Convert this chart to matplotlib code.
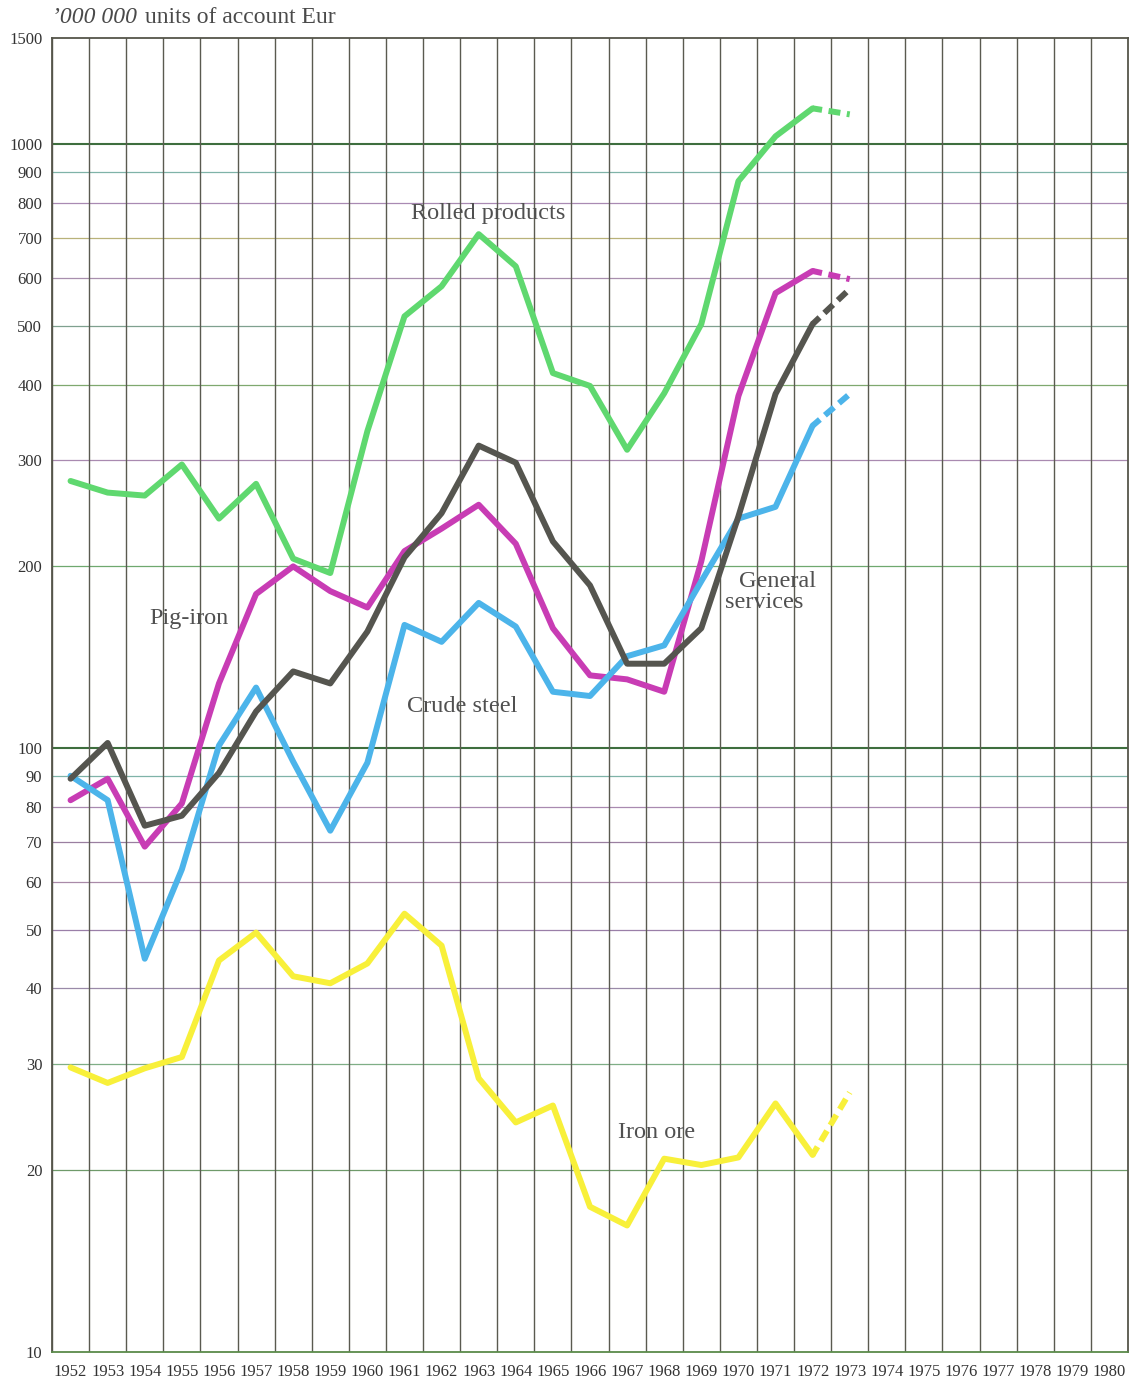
import matplotlib.pyplot as plt
from matplotlib.ticker import FixedLocator, NullLocator

years = list(range(1952, 1974))

rolled = [277, 265, 262, 295, 240, 274, 206, 195, 335, 519, 582, 710,
          628, 418, 398, 312, 387, 504, 869, 1031, 1147, 1121]
pig_iron = [82, 89, 68.7, 81, 128, 180, 200, 182, 171, 212, 231, 253,
            218, 158, 132, 130, 124, 204, 383, 567, 617, 598]
crude_steel = [90, 82, 44.8, 63, 101, 126, 95, 73, 94.6, 160, 150, 174,
               159, 124, 122, 142, 148, 189, 240, 251, 342, 386]
general = [89, 102, 74.4, 77.3, 91, 115, 134, 128, 156, 207, 245, 317,
           297, 220, 186, 138, 138, 158, 242, 386, 504, 576]
iron_ore = [29.6, 27.9, 29.5, 30.8, 44.5, 49.5, 41.9, 40.8, 44, 53.2, 47.1, 28.4,
            24, 25.6, 17.4, 16.2, 20.9, 20.4, 21, 25.8, 21.2, 26.9]

y_ticks = [10, 20, 30, 40, 50, 60, 70, 80, 90, 100,
           200, 300, 400, 500, 600, 700, 800, 900, 1000, 1500]
x_labels = list(range(1952, 1981))

# horizontal rules, tinted like the printed grid
rules = [20, 30, 40, 50, 60, 70, 80, 90, 100,
         200, 300, 400, 500, 600, 700, 800, 900, 1000]
rule_colors = ['#6f9a6a', '#7fae86', '#9a8aa8', '#9a7fa8', '#a98aa8', '#9a7fa0',
               '#a98ab0', '#7fb3a8', '#3e6e3e',
               '#6fa86f', '#a98ab0', '#7fa86f', '#7fa08f', '#a88fae', '#b9b27a',
               '#a98ab3', '#7fb3a8', '#3e6e3e']

fig = plt.figure(figsize=(11.34, 13.79), dpi=100)
ax = fig.add_axes([52 / 1134, 27 / 1379, 1076 / 1134, 1314 / 1379])
ax.set_yscale('log')
ax.set_ylim(10, 1500)
ax.set_xlim(1951.5, 1980.5)

for v, c in zip(rules, rule_colors):
    lw = 1.5 if v in (100, 1000) else 0.9
    ax.axhline(v, color=c, lw=lw, zorder=1)

for x in range(1952, 1981):
    ax.axvline(x - 0.5, color='#5a5a50', lw=1.0, zorder=1)

for s in ax.spines.values():
    s.set_color('#55554a')
    s.set_linewidth(1.3)
ax.spines['bottom'].set_color('#5a8a4a')

series = [
    (rolled, '#5fd86f'),
    (pig_iron, '#c83cb4'),
    (crude_steel, '#4cb4ea'),
    (general, '#55554f'),
    (iron_ore, '#f8f03a'),
]
for vals, col in series:
    ax.plot(years[:-1], vals[:-1], color=col, lw=4.3, solid_joinstyle='round',
            solid_capstyle='round', zorder=3)
    # last year is an estimate -> dashed
    ax.plot(years[-2:], vals[-2:], color=col, lw=4.3, ls=(0.4, (2.0, 1.1)),
            dash_capstyle='butt', zorder=3)

ax.yaxis.set_major_locator(FixedLocator(y_ticks))
ax.yaxis.set_minor_locator(NullLocator())
ax.set_yticklabels([str(v) for v in y_ticks])
ax.set_xticks(x_labels)
ax.set_xticklabels([str(v) for v in x_labels])
ax.tick_params(length=0, labelcolor='#333333')
ax.tick_params(axis='y', labelsize=12, pad=7)
ax.tick_params(axis='x', labelsize=12, pad=9)
for lab in ax.get_xticklabels() + ax.get_yticklabels():
    lab.set_family('Liberation Serif')

tf = dict(family='Liberation Serif', color='#505050', fontsize=17.5, zorder=2,
          ha='center', va='center')
ax.text(1963.25, 769, 'Rolled products', **tf)
ax.text(1955.2, 164, 'Pig-iron', **tf)
ax.text(1962.55, 117, 'Crude steel', **tf)
ax.text(1971.05, 189, 'General', **tf)
ax.text(1970.7, 174, 'services', **tf)
ax.text(1967.8, 23.1, 'Iron ore', **tf)

t1 = fig.text(52 / 1134, 1 - 23 / 1379, "\u2019000 000", style='italic',
              family='Liberation Serif', fontsize=17, color='#4a4a4a',
              va='baseline', ha='left')
fig.canvas.draw()
w = t1.get_window_extent().width
fig.text((52 + w + 2) / 1134, 1 - 23 / 1379, " units of account Eur",
         family='Liberation Serif', fontsize=17, color='#4a4a4a',
         va='baseline', ha='left')

fig.savefig('out.png', dpi=100)
